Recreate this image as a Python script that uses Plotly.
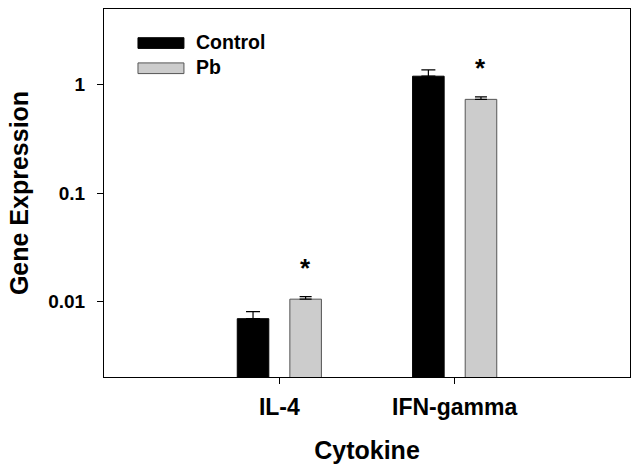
import math
import plotly.graph_objects as go

categories = ["IL-4", "IFN-gamma"]
control_vals = [0.0069, 1.20]
control_err = [0.0011, 0.17]
pb_vals = [0.01045, 0.733]
pb_err = [0.0006, 0.041]
significant = ["*", "*"]
ytick_vals = [0.01, 0.1, 1]
ytick_text = ["0.01", "0.1", "1"]

FONT = "Liberation Sans, Arial, sans-serif"

fig = go.Figure()
fig.add_trace(go.Bar(
    x=categories, y=control_vals, name="Control",
    marker=dict(color="black", line=dict(color="black", width=1)),
    offset=-0.24, width=0.18,
    error_y=dict(type="data", array=control_err, symmetric=False,
                 arrayminus=[0, 0], color="black", thickness=1.2, width=7),
    showlegend=False,
))
fig.add_trace(go.Bar(
    x=categories, y=pb_vals, name="Pb",
    marker=dict(color="#cccccc", line=dict(color="#555555", width=1)),
    offset=0.06, width=0.18,
    error_y=dict(type="data", array=pb_err, symmetric=False,
                 arrayminus=[0, 0], color="black", thickness=1.2, width=6),
    showlegend=False,
))

annotations = []
for cat, v, e, s in zip(categories, pb_vals, pb_err, significant):
    annotations.append(dict(
        x=cat, xshift=26, y=math.log10(v + e), yref="y", xref="x",
        text="<b>" + s + "</b>", showarrow=False, yanchor="middle", yshift=29,
        font=dict(family=FONT, size=26, color="black"),
    ))

# manual legend
legend_items = [("Control", "black", "black"), ("Pb", "#cccccc", "#555555")]
shapes = []
legend_y = [0.9075, 0.839]
for (label, fill, line), yc in zip(legend_items, legend_y):
    shapes.append(dict(type="rect", xref="paper", yref="paper",
                       x0=0.0646, x1=0.152, y0=yc - 0.0145, y1=yc + 0.0145,
                       fillcolor=fill, line=dict(color=line, width=1)))
    annotations.append(dict(x=0.171, y=yc + 0.003, xref="paper", yref="paper",
                            text="<b>" + label + "</b>", showarrow=False,
                            xanchor="left", yanchor="middle",
                            font=dict(family=FONT, size=19.5, color="black")))

fig.update_layout(
    width=640, height=473,
    margin=dict(l=104, r=10, t=9, b=96),
    paper_bgcolor="white", plot_bgcolor="white",
    barmode="overlay",
    font=dict(family=FONT, color="black"),
    shapes=shapes, annotations=annotations,
    xaxis=dict(
        type="category", range=[-1, 2], automargin=False,
        showline=True, linecolor="black", linewidth=1, mirror=True,
        ticks="outside", ticklen=6, tickcolor="black", showgrid=False,
        tickfont=dict(family=FONT, size=23, color="black"),
        ticklabelstandoff=3,
        tickprefix="<b>", ticksuffix="</b>",
        title=dict(text="<b>Cytokine</b>", font=dict(family=FONT, size=25, color="black"), standoff=22),
    ),
    yaxis=dict(
        type="log", range=[-2.7, 0.7], automargin=False,
        tickvals=ytick_vals, ticktext=["<b>" + t + "</b>" for t in ytick_text],
        showline=True, linecolor="black", linewidth=1, mirror=True,
        ticks="outside", ticklen=6, tickcolor="black", showgrid=False,
        zeroline=False,
        tickfont=dict(family=FONT, size=19, color="black"),
        ticklabelstandoff=8,
        title=dict(text="<b>Gene Expression</b>", font=dict(family=FONT, size=25, color="black"), standoff=12),
    ),
)

fig.write_html("out.html", config={"displayModeBar": False},
               post_script="document.body.style.margin='0';document.body.style.overflow='hidden';")
